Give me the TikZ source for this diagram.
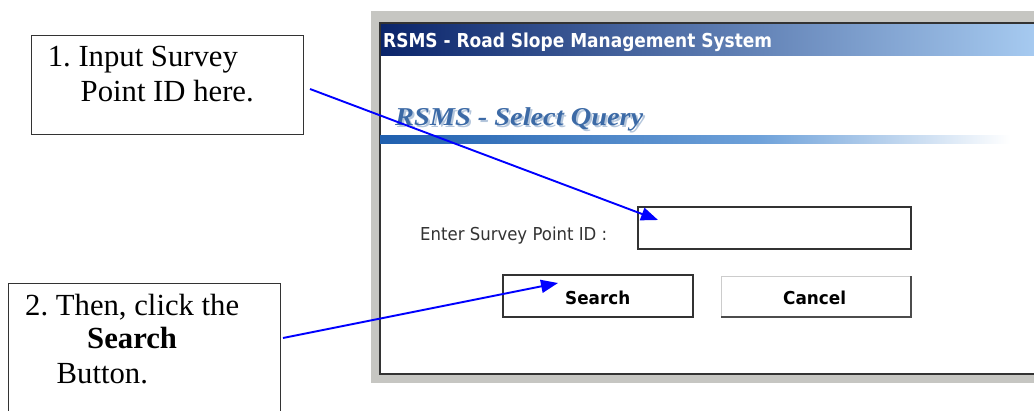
\documentclass[tikz,border=0pt]{standalone}
\usepackage{fontspec}
\setmainfont{Liberation Serif}
\newfontfamily\uisans{DejaVu Sans}
\usepackage{graphicx}
\usetikzlibrary{arrows.meta}
\definecolor{framegray}{HTML}{C6C6C2}
\definecolor{navy}{HTML}{0A246A}
\definecolor{skyb}{HTML}{A6CAF0}
\definecolor{qblue}{HTML}{3C6AA6}
\definecolor{qshade}{HTML}{B4C6DC}
\definecolor{barblue}{HTML}{1F5FAE}
\definecolor{barmid}{HTML}{6FA2DA}
\definecolor{uidark}{HTML}{333333}
\newcommand\fitto[2]{\resizebox{#1}{\height}{#2}}
\frenchspacing
\begin{document}
\begin{tikzpicture}[x=1pt,y=-1pt,
  callout/.style={draw=black!80, line width=1pt, inner sep=0pt, outer sep=0pt},
  note/.style={anchor=base west, inner sep=0pt, font=\fontsize{30.7}{35}\selectfont},
  ui/.style={anchor=base west, inner sep=0pt},
  field/.style={draw=uidark, line width=1.5pt, fill=white, inner sep=0pt, outer sep=0pt},
  pointer/.style={draw=blue, line width=1.9pt, -{Triangle[length=17pt,width=13pt]}}]
\useasboundingbox (0,0) rectangle (1034,410);
\fill[white] (0,0) rectangle (1034,410);
% window frame
\fill[framegray] (371,11) rectangle (1034,383);
\fill[white] (380,23) rectangle (1034,374);
\shade[left color=navy, right color=skyb] (380,24) rectangle (1034,55);
\draw[uidark, line width=1.5pt] (1034,23) -- (380,23) -- (380,374) -- (1034,374);
% title texts
\node[ui, text=white, font=\uisans\bfseries\fontsize{19.2}{20}\selectfont] (ttl) at (383,47) {\fitto{389pt}{RSMS - Road Slope Management System}};
\node[ui, text=qshade, font=\bfseries\itshape\fontsize{25.7}{28}\selectfont] (qsh) at (397,127) {\fitto{248pt}{RSMS - Select Query}};
\node[ui, text=qblue, font=\bfseries\itshape\fontsize{25.7}{28}\selectfont] (qt) at (395,125) {\fitto{248pt}{RSMS - Select Query}};
% blue bar
\shade[left color=barblue, right color=barmid] (380,135) rectangle (760,143);
\shade[left color=barmid, right color=white] (760,135) rectangle (1010,143);
% form
\node[ui, text=uidark, font=\uisans\fontsize{17.8}{20}\selectfont] (lbl) at (420,240) {\fitto{187pt}{Enter Survey Point ID :}};
\node[field, minimum width=273pt, minimum height=42pt] (tbox) at (774.5,228) {};
\node[field, line width=2.2pt, draw=black!80, minimum width=190pt, minimum height=42pt] (sbtn) at (598,296) {};
\node[ui, font=\uisans\bfseries\fontsize{17.8}{20}\selectfont] (stxt) at (565,304) {\fitto{65pt}{Search}};
\node[fill=white, inner sep=0pt, outer sep=0pt, minimum width=190pt, minimum height=41pt] (cbtn) at (816,296.5) {};
\draw[black!20, line width=1pt] (cbtn.south west) -- (cbtn.north west) -- (cbtn.north east);
\draw[black!70, line width=2pt] (cbtn.north east) -- (cbtn.south east) -- (cbtn.south west);
\node[ui, font=\uisans\bfseries\fontsize{17.8}{20}\selectfont] (ctxt) at (783,304) {\fitto{63pt}{Cancel}};
% callout boxes
\node[callout, minimum width=272pt, minimum height=99pt] (box1) at (167,84.5) {};
\node[note] (b1l1) at (47.6,66.7) {1. Input Survey};
\node[note] (b1l2) at (80.5,101.7) {Point ID here.};
\node[inner sep=0pt, outer sep=0pt, minimum width=272pt, minimum height=134pt] (box2) at (144,350) {};
\draw[black!80, line width=1pt] (box2.south west) -- (box2.north west) -- (box2.north east) -- (box2.south east);
\node[note] (b2l1) at (25,315) {2. Then, click the};
\node[note, font=\bfseries\fontsize{30.7}{35}\selectfont] (b2l2) at (87,348) {Search};
\node[note] (b2l3) at (56.5,383) {Button.};
% pointers
\coordinate (s1) at ([xshift=7pt,yshift=-4.5pt]box1.east);
\coordinate (e1) at ([xshift=20pt,yshift=-13pt]tbox.north west);
\draw[pointer] (s1) -- (e1);
\coordinate (s2) at ([xshift=3pt,yshift=-55pt]box2.north east);
\coordinate (e2) at ([xshift=55pt,yshift=-8pt]sbtn.north west);
\draw[pointer] (s2) -- (e2);
\end{tikzpicture}
\end{document}
